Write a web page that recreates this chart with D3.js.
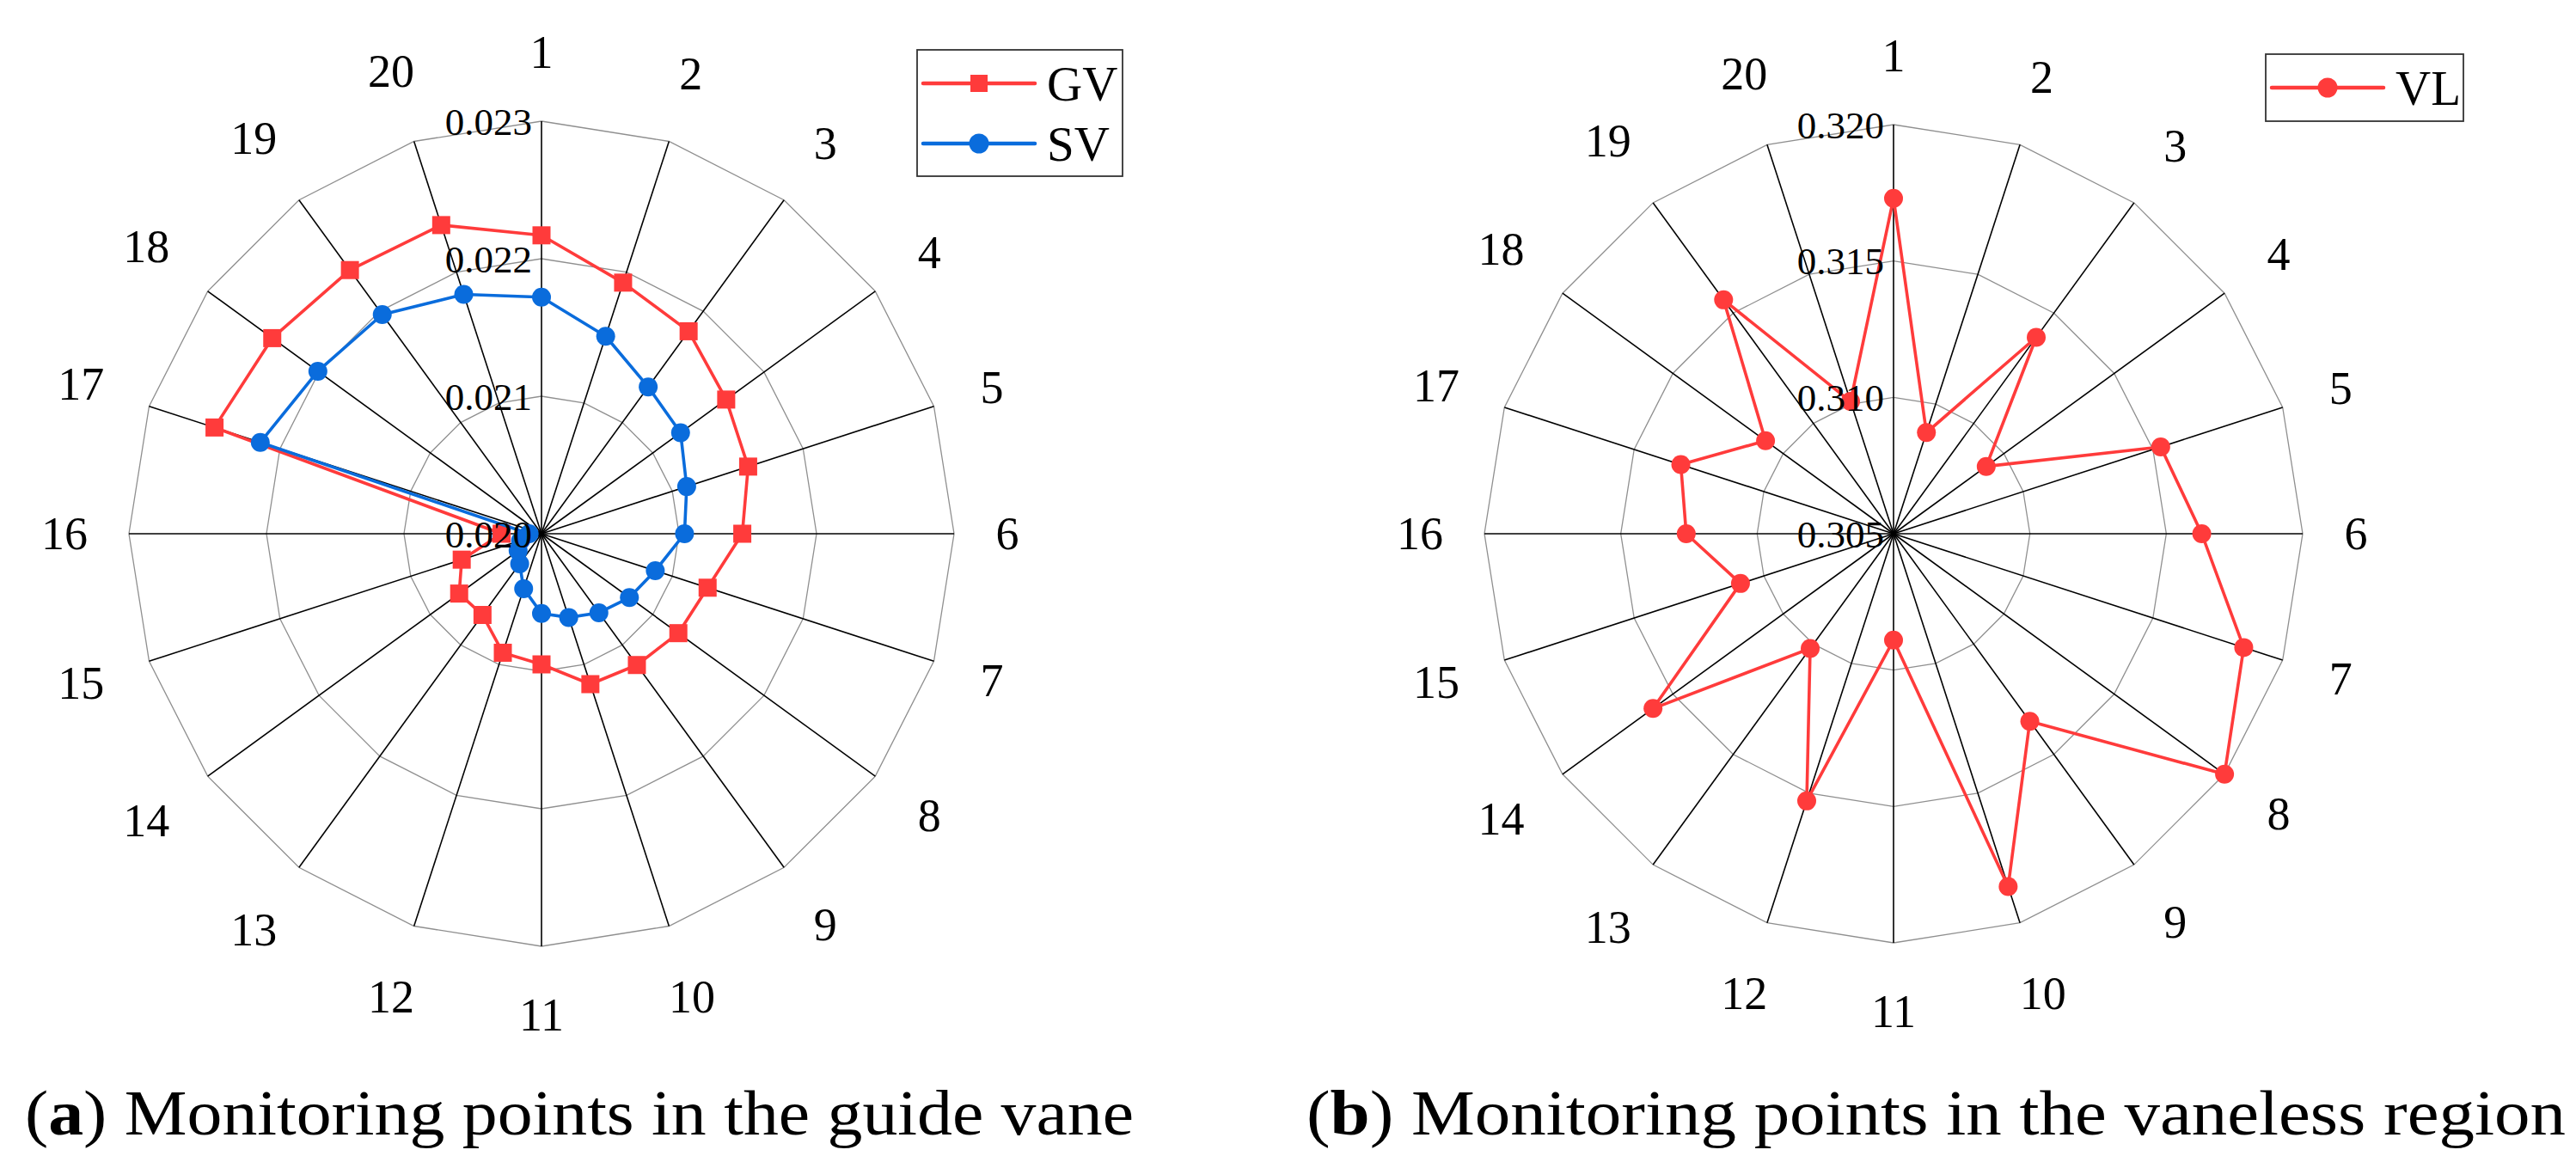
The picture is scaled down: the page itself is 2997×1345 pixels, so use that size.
<!DOCTYPE html>
<html>
<head>
<meta charset="utf-8">
<script src="https://cdn.jsdelivr.net/npm/d3@7"></script>
<style>
  html, body { margin: 0; padding: 0; background: #fff; }
  svg { display: block; }
  text { font-family: "Liberation Serif", "Times New Roman", serif; fill: #000; }
</style>
</head>
<body>
<svg id="chart" width="2997" height="1345"></svg>
<script>
// ---------- data ----------
const points = d3.range(1, 21).map(String); // monitoring point labels 1..20

const gvValues = [0.02217, 0.02192, 0.02182, 0.02166, 0.02158, 0.02146, 0.02127, 0.02123, 0.02118, 0.02115,
                  0.02095, 0.02091, 0.02073, 0.02074, 0.02061, 0.02029, 0.02250, 0.02242, 0.02237, 0.02236];
const svValues = [0.02172, 0.02151, 0.02132, 0.02125, 0.02111, 0.02104, 0.02087, 0.02079, 0.02071, 0.02064,
                  0.02058, 0.02042, 0.02027, 0.02021, 0.02016, 0.02009, 0.02215, 0.02201, 0.02197, 0.02183];
const vlValues = [0.3173, 0.3089, 0.3139, 0.3092, 0.3153, 0.3163, 0.3185, 0.3200, 0.3135, 0.3186,
                  0.3089, 0.3153, 0.3102, 0.3159, 0.3109, 0.3126, 0.3132, 0.3108, 0.3156, 0.3101];

const ticksA = [0.020, 0.021, 0.022, 0.023];
const ticksB = [0.305, 0.310, 0.315, 0.320];

const captionA = { tag: "a", text: " Monitoring points in the guide vane" };
const captionB = { tag: "b", text: " Monitoring points in the vaneless region" };

const RED = "#ff3b3b", BLUE = "#0a6cdc";

// ---------- drawing ----------
const svg = d3.select("#chart");
svg.append("rect").attr("width", 2997).attr("height", 1345).attr("fill", "#fff");

function radar(cfg) {
  const g = svg.append("g").attr("transform", `translate(${cfg.cx},${cfg.cy})`);
  const ang = d3.scalePoint().domain(points).range([0, 2 * Math.PI * (points.length - 1) / points.length]);
  const rad = d3.scaleLinear().domain([cfg.ticks[0], cfg.ticks[cfg.ticks.length - 1]]).range([0, cfg.R]);
  const pos = (p, r) => [r * Math.sin(ang(p)), -r * Math.cos(ang(p))];

  // rings (polygons)
  cfg.ticks.slice(1).forEach(t => {
    g.append("path")
      .attr("d", d3.line()(points.map(p => pos(p, rad(t)))) + "Z")
      .attr("fill", "none").attr("stroke", "#8f8f8f").attr("stroke-width", 1.3);
  });
  // spokes
  points.forEach(p => {
    const [x, y] = pos(p, cfg.R);
    g.append("line").attr("x1", 0).attr("y1", 0).attr("x2", x).attr("y2", y)
      .attr("stroke", "#000").attr("stroke-width", 1.6);
  });
  // category labels
  points.forEach(p => {
    const a = ang(p);
    const hw = p.length * 13;
    const r = cfg.R + 49 + hw * Math.abs(Math.sin(a)) + 31 * Math.abs(Math.cos(a));
    g.append("text")
      .attr("x", r * Math.sin(a)).attr("y", -r * Math.cos(a))
      .attr("dy", "0.34em").attr("text-anchor", "middle")
      .attr("font-size", 54).text(p);
  });

  // series
  const radial = d3.lineRadial()
    .angle((d, i) => ang(points[i]))
    .radius(d => rad(d))
    .curve(d3.curveLinearClosed);
  cfg.series.forEach(s => {
    g.append("path").attr("d", radial(s.values))
      .attr("fill", "none").attr("stroke", s.color).attr("stroke-width", 3.6)
      .attr("stroke-linejoin", "round");
    const mg = g.append("g");
    s.values.forEach((v, i) => {
      const [x, y] = pos(points[i], rad(v));
      if (s.marker === "square") {
        mg.append("rect").attr("x", x - 10.5).attr("y", y - 10.5).attr("width", 21).attr("height", 21).attr("fill", s.color);
      } else {
        mg.append("circle").attr("cx", x).attr("cy", y).attr("r", 11).attr("fill", s.color);
      }
    });
  });

  // tick labels
  cfg.ticks.forEach(t => {
    g.append("text").attr("x", -11).attr("y", -rad(t)).attr("dy", "0.35em")
      .attr("text-anchor", "end").attr("font-size", 45)
      .text(d3.format(".3f")(t));
  });

  // legend
  const lg = svg.append("g");
  lg.append("rect").attr("x", cfg.legend.x).attr("y", cfg.legend.y)
    .attr("width", cfg.legend.w).attr("height", cfg.legend.h)
    .attr("fill", "#fff").attr("stroke", "#333").attr("stroke-width", 1.8);
  cfg.series.forEach((s, i) => {
    const y = cfg.legend.y + cfg.legend.row0 + i * 70;
    const x0 = cfg.legend.x + 7;
    lg.append("line").attr("x1", x0).attr("x2", x0 + 130).attr("y1", y).attr("y2", y)
      .attr("stroke", s.color).attr("stroke-width", 4.5).attr("stroke-linecap", "round");
    if (s.marker === "square") {
      lg.append("rect").attr("x", x0 + 65 - 10).attr("y", y - 10).attr("width", 20).attr("height", 20).attr("fill", s.color);
    } else {
      lg.append("circle").attr("cx", x0 + 65).attr("cy", y).attr("r", 11.5).attr("fill", s.color);
    }
    lg.append("text").attr("x", x0 + 144).attr("y", y).attr("dy", "0.35em")
      .attr("font-size", 57).text(s.name);
  });

  // caption
  const cap = svg.append("text").attr("x", cfg.caption.x).attr("y", 1320)
    .attr("font-size", 74)
    .attr("textLength", cfg.caption.w).attr("lengthAdjust", "spacingAndGlyphs");
  cap.append("tspan").text("(");
  cap.append("tspan").attr("font-weight", "bold").text(cfg.caption.c.tag);
  cap.append("tspan").text(")" + cfg.caption.c.text);
}

radar({
  cx: 630, cy: 621, R: 480, ticks: ticksA,
  series: [
    { name: "GV", values: gvValues, color: RED, marker: "square" },
    { name: "SV", values: svValues, color: BLUE, marker: "circle" }
  ],
  legend: { x: 1067, y: 58, w: 239, h: 147, row0: 39 },
  caption: { x: 29, w: 1290, c: captionA }
});

radar({
  cx: 2203, cy: 621, R: 476, ticks: ticksB,
  series: [
    { name: "VL", values: vlValues, color: RED, marker: "circle" }
  ],
  legend: { x: 2636, y: 63, w: 230, h: 78, row0: 39 },
  caption: { x: 1520, w: 1465, c: captionB }
});
</script>
</body>
</html>
